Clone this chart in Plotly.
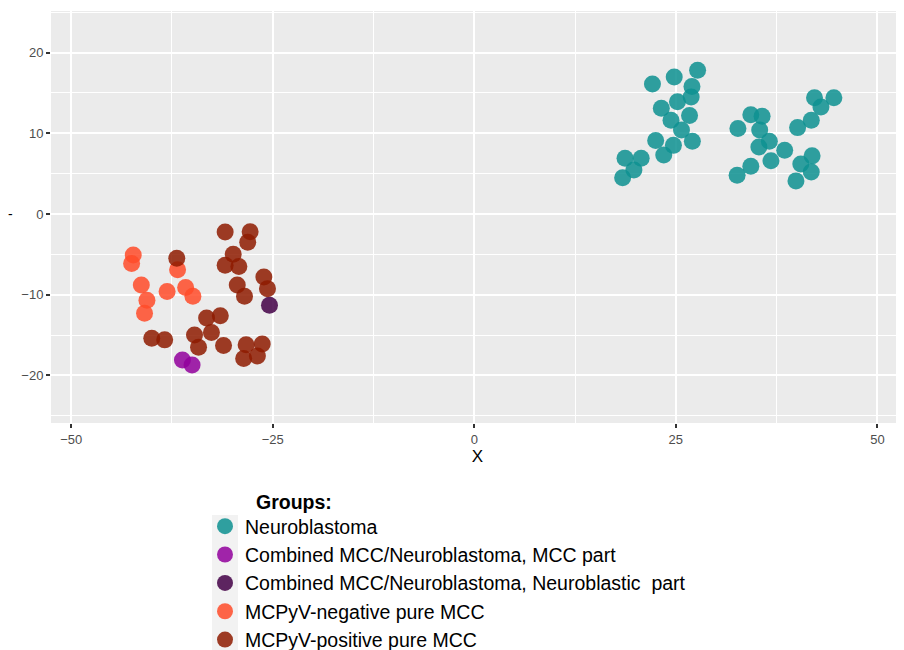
import plotly.graph_objects as go

groups = [
    "Neuroblastoma",
    "Combined MCC/Neuroblastoma, MCC part",
    "Combined MCC/Neuroblastoma, Neuroblastic  part",
    "MCPyV-negative pure MCC",
    "MCPyV-positive pure MCC",
]
colors = [
    "rgb(13,144,144)",
    "rgb(146,0,156)",
    "rgb(67,0,71)",
    "rgb(255,75,41)",
    "rgb(142,27,0)",
]

neuro_x = [22.1, 24.8, 27.7, 27.0, 26.9, 25.2, 23.2, 24.4, 26.7, 25.7, 22.5, 24.7, 27.05, 23.5, 18.7, 20.7, 19.8, 18.4,
           32.7, 34.3, 35.7, 35.4, 36.6, 35.3, 38.5, 36.8, 34.3, 32.6, 40.1, 41.8, 42.2, 43.0, 44.6, 41.9, 40.5, 41.8, 39.9]
neuro_y = [16.1, 16.97, 17.8, 15.8, 14.5, 13.9, 13.1, 11.6, 12.2, 10.4, 9.1, 8.5, 9.0, 7.3, 6.9, 6.9, 5.45, 4.5,
           10.6, 12.3, 12.1, 10.4, 9.0, 8.3, 7.9, 6.6, 5.9, 4.8, 10.7, 11.6, 14.4, 13.25, 14.4, 7.2, 6.2, 5.2, 4.1]

comb_mcc_x = [-36.2, -35.0]
comb_mcc_y = [-18.1, -18.7]

comb_nb_x = [-25.4]
comb_nb_y = [-11.3]

neg_x = [-42.3, -42.5, -41.3, -40.6, -40.9, -38.1, -36.8, -35.8, -34.9]
neg_y = [-5.08, -6.15, -8.8, -10.7, -12.3, -9.6, -6.9, -9.1, -10.2]

pos_x = [-36.9, -30.9, -27.8, -28.1, -29.9, -30.9, -29.2, -26.1, -25.65, -29.4, -28.5, -33.2, -31.5, -32.6,
         -34.7, -34.2, -31.1, -28.3, -26.3, -28.6, -26.9, -40.0, -38.4]
pos_y = [-5.5, -2.23, -2.19, -3.5, -5.0, -6.36, -6.5, -7.8, -9.25, -8.8, -10.2, -12.9, -12.6, -14.7,
         -15.0, -16.5, -16.3, -16.2, -16.1, -17.9, -17.6, -15.4, -15.6]

xs = [neuro_x, comb_mcc_x, comb_nb_x, neg_x, pos_x]
ys = [neuro_y, comb_mcc_y, comb_nb_y, neg_y, pos_y]

x_ticks = [-50, -25, 0, 25, 50]
x_ticktext = ["\u221250", "\u221225", "0", "25", "50"]
y_ticks = [-20, -10, 0, 10, 20]
y_ticktext = ["\u221220", "\u221210", "0", "10", "20"]

fig = go.Figure()
for name, c, x, y in zip(groups, colors, xs, ys):
    fig.add_trace(go.Scatter(
        x=x, y=y, mode="markers", name=name,
        marker=dict(size=17, color=c, opacity=0.85, line=dict(width=0)),
    ))

# page has an 8px body margin: figure occupies page x 8..904, y 8..650
OFF = 8
W, H = 904 - OFF, 650 - OFF
L, R, T, B = 51 - OFF, 0, 11 - OFF, 650 - 423
pw, ph = W - L - R, H - T - B

def px_x(p):
    return (p - OFF - L) / pw

def px_y(p):
    return (H - B - (p - OFF)) / ph

axis_common = dict(
    showline=False, zeroline=False, showgrid=True, gridcolor="white", gridwidth=2,
    ticks="outside", ticklen=4, tickwidth=1.5, tickcolor="#333333",
    tickfont=dict(family="Liberation Sans, Arial, sans-serif", size=13, color="#4d4d4d"),
)

fig.update_layout(
    width=W, height=H,
    margin=dict(l=L, r=R, t=T, b=B, pad=0, autoexpand=False),
    paper_bgcolor="white", plot_bgcolor="#ebebeb",
    font=dict(family="Liberation Sans, Arial, sans-serif"),
    xaxis=dict(range=[-52.5, 53.3], tickvals=x_ticks, ticktext=x_ticktext,
               minor=dict(showgrid=True, gridcolor="white", gridwidth=1, dtick=12.5, tick0=-37.5),
               title=dict(text="X", font=dict(size=17, color="black"), standoff=3),
               **axis_common),
    yaxis=dict(range=[-25.9, 25.15], tickvals=y_ticks, ticktext=y_ticktext,
               minor=dict(showgrid=True, gridcolor="white", gridwidth=1, dtick=10, tick0=5),
               **axis_common),
    showlegend=True,
    legend=dict(
        x=px_x(205), xanchor="left", y=px_y(583), yanchor="middle",
        bgcolor="rgba(0,0,0,0)", borderwidth=0,
        font=dict(family="Liberation Sans, Arial, sans-serif", size=19.5, color="black"),
        tracegroupgap=0, itemsizing="trace",
    ),
)

fig.add_shape(type="rect", xref="paper", yref="paper",
              x0=px_x(212), x1=px_x(238), y0=px_y(650), y1=px_y(515),
              fillcolor="#f2f2f2", line=dict(width=0), layer="below")

fig.add_annotation(text="<b>Groups:</b>", xref="paper", yref="paper",
                   x=px_x(254), y=px_y(502), xanchor="left", yanchor="middle",
                   showarrow=False, font=dict(size=19.5, color="black"))
fig.add_annotation(text="-", xref="paper", yref="paper",
                   x=px_x(10), y=px_y(214), xanchor="center", yanchor="middle",
                   showarrow=False, font=dict(size=14, color="black"))

fig.write_html("out.html")
